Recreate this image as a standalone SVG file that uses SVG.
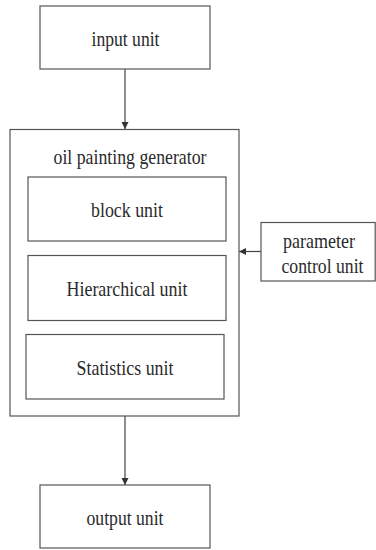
<svg xmlns="http://www.w3.org/2000/svg" width="376" height="550" viewBox="0 0 376 550">
  <style>
    .box { fill: #ffffff; stroke: #555555; stroke-width: 1.2; }
    .lbl { font-family: "Liberation Serif", "Times New Roman", serif; font-size: 22px; fill: #2a2a2a; text-anchor: middle; }
    .wire { stroke: #444444; stroke-width: 1.2; fill: none; }
  </style>
  <defs>
    <marker id="arrow" viewBox="0 0 10 10" refX="10" refY="5" markerWidth="7" markerHeight="8" markerUnits="userSpaceOnUse" orient="auto">
      <path d="M0,0 L10,5 L0,10 Z" fill="#333333"/>
    </marker>
  </defs>
  <rect width="376" height="550" fill="#ffffff"/>

  <g id="connectors">
    <line class="wire" x1="125" y1="69" x2="125" y2="129" marker-end="url(#arrow)"/>
    <line class="wire" x1="125" y1="416" x2="125" y2="485" marker-end="url(#arrow)"/>
    <line class="wire" x1="261" y1="251.5" x2="239" y2="251.5" marker-end="url(#arrow)"/>
  </g>

  <g id="input-unit">
    <rect class="box" x="40" y="6" width="170" height="63"/>
    <text class="lbl" x="125.5" y="46" textLength="68" lengthAdjust="spacingAndGlyphs">input unit</text>
  </g>

  <g id="oil-painting-generator">
    <rect class="box" x="10" y="129.5" width="229" height="286.5"/>
    <text class="lbl" x="130" y="164" textLength="153" lengthAdjust="spacingAndGlyphs">oil painting generator</text>
  </g>

  <g id="block-unit">
    <rect class="box" x="28" y="177" width="198" height="64"/>
    <text class="lbl" x="127" y="217" textLength="72" lengthAdjust="spacingAndGlyphs">block unit</text>
  </g>

  <g id="hierarchical-unit">
    <rect class="box" x="28" y="255.5" width="198" height="65"/>
    <text class="lbl" x="127" y="296" textLength="121" lengthAdjust="spacingAndGlyphs">Hierarchical unit</text>
  </g>

  <g id="statistics-unit">
    <rect class="box" x="26" y="334.5" width="198" height="64.5"/>
    <text class="lbl" x="125" y="375" textLength="97" lengthAdjust="spacingAndGlyphs">Statistics unit</text>
  </g>

  <g id="parameter-control-unit">
    <rect class="box" x="261" y="222.5" width="114.2" height="58.5"/>
    <text class="lbl" x="319" y="247.5" textLength="72" lengthAdjust="spacingAndGlyphs">parameter</text>
    <text class="lbl" x="322.5" y="272.5" textLength="82" lengthAdjust="spacingAndGlyphs">control unit</text>
  </g>

  <g id="output-unit">
    <rect class="box" x="40" y="485" width="170" height="63"/>
    <text class="lbl" x="125" y="525" textLength="77" lengthAdjust="spacingAndGlyphs">output unit</text>
  </g>
</svg>
